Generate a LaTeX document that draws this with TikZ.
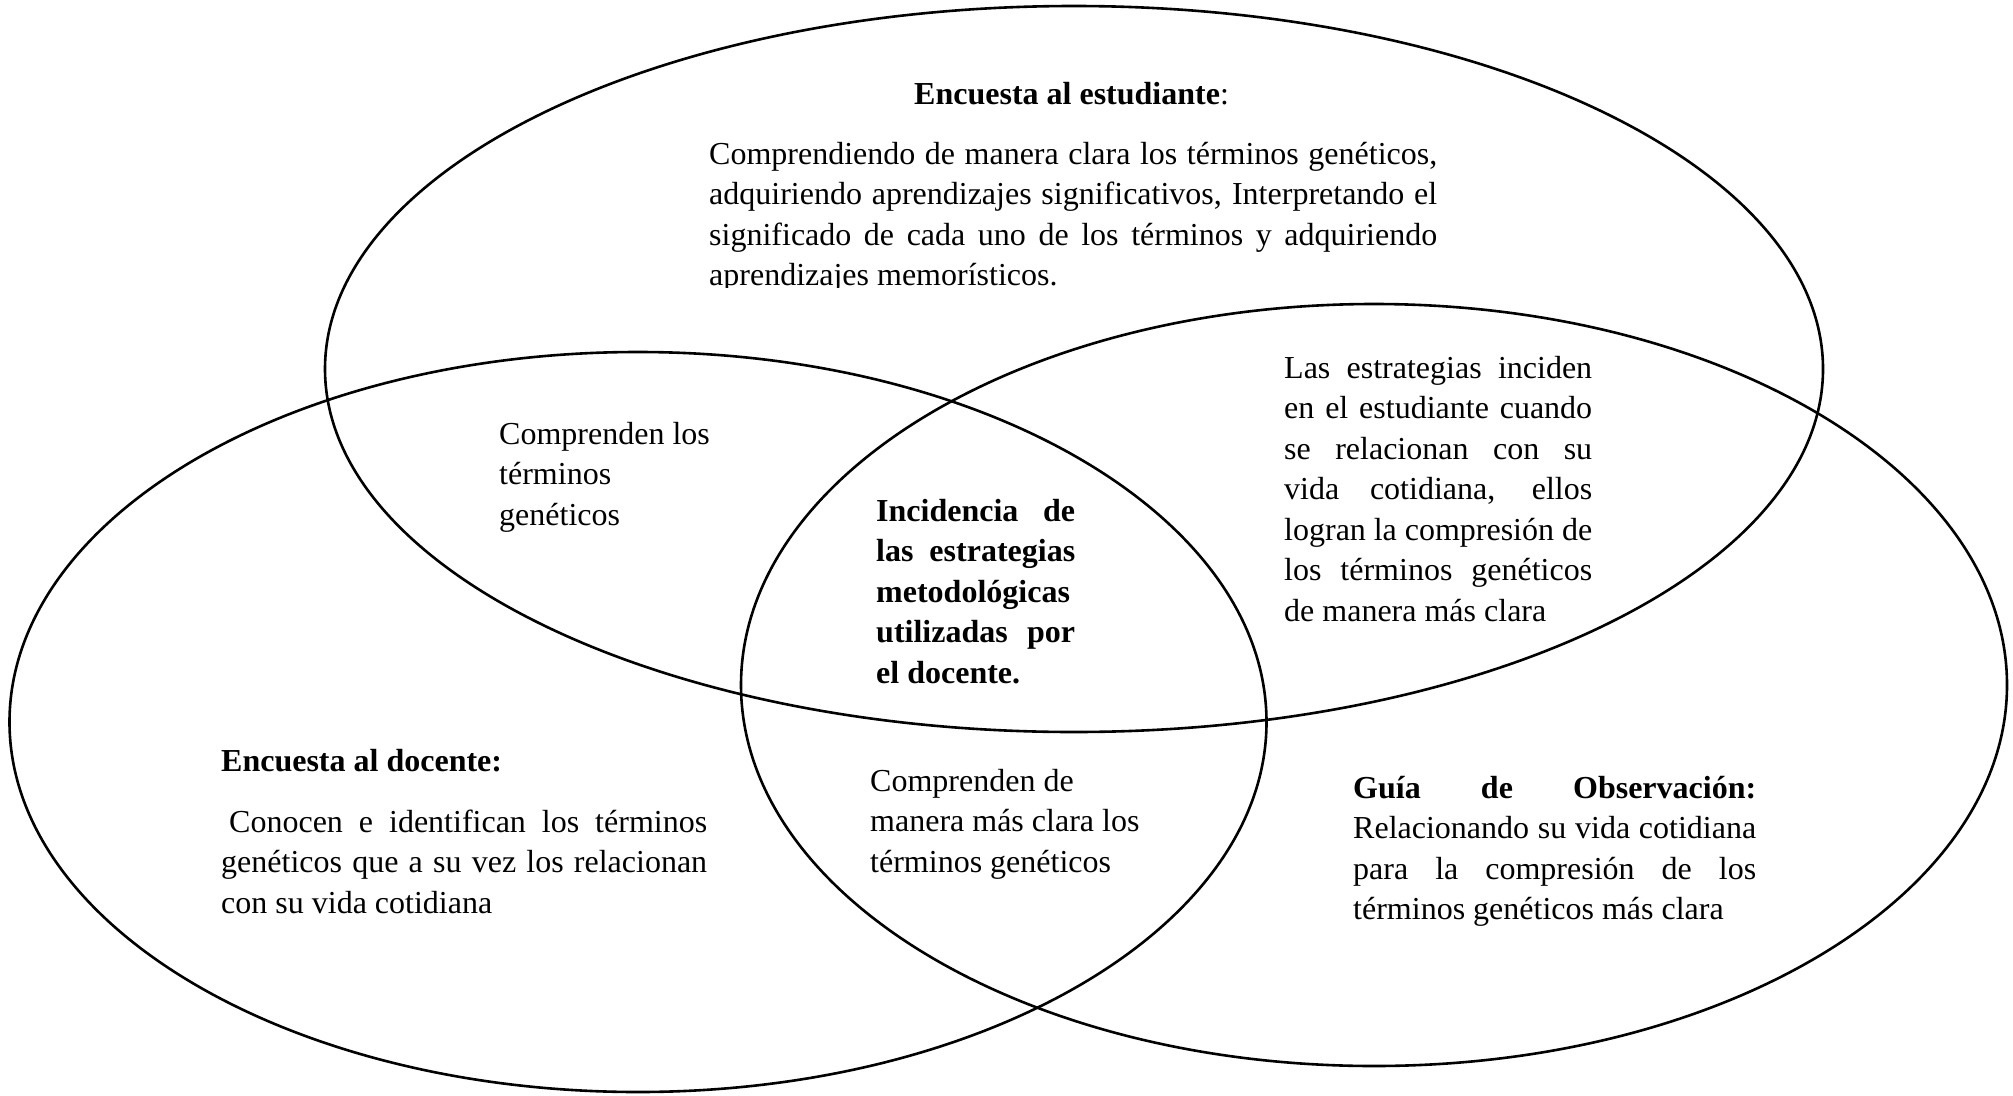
\documentclass[tikz,border=0pt]{standalone}
\usepackage{fontspec}
\setmainfont{Liberation Serif}
\usetikzlibrary{shapes.geometric}
\newcommand{\J}[2]{\makebox[#1][s]{#2}}
\begin{document}
\begin{tikzpicture}[x=1pt,y=-1pt,
  venn/.style={ellipse,draw=black,line width=2.6pt,inner sep=0pt},
  txt/.style={inner sep=0pt,anchor=base west,font=\fontsize{32}{40.5}\selectfont}]
\useasboundingbox (0,0) rectangle (2013,1095);
\node[venn,minimum width=1498pt,minimum height=726pt] (est) at (1074,369) {};
\node[venn,minimum width=1257pt,minimum height=740pt] (doc) at (638,722) {};
\node[venn,minimum width=1266pt,minimum height=762pt] (obs) at (1374,685) {};

\node[txt] (h1) at (914,104) {\textbf{Encuesta al estudiante}:};
\begin{scope}
\clip (600,120) rectangle (1500,287);
\node[txt] (p1) at (709,164) {\begin{minipage}[t]{728pt}
\J{728pt}{Comprendiendo de manera clara los términos genéticos,}\\
\J{728pt}{adquiriendo aprendizajes significativos, Interpretando el}\\
\J{728pt}{significado de cada uno de los términos y adquiriendo}\\
aprendizajes memorísticos.\end{minipage}};
\end{scope}

\node[txt] (p2) at (499,444) {\begin{minipage}[t]{220pt}
Comprenden los\\ términos\\ genéticos\end{minipage}};

\node[txt] (p3) at (876,521) {\begin{minipage}[t]{199pt}\bfseries
\J{199pt}{Incidencia de}\\
\J{199pt}{las estrategias}\\
\J{199pt}{metodológicas}\\
\J{199pt}{utilizadas por}\\
el docente.\end{minipage}};

\node[txt] (p4) at (1284,378) {\begin{minipage}[t]{308pt}
\J{308pt}{Las estrategias inciden}\\
\J{308pt}{en el estudiante cuando}\\
\J{308pt}{se relacionan con su}\\
\J{308pt}{vida cotidiana, ellos}\\
\J{308pt}{logran la compresión de}\\
\J{308pt}{los términos genéticos}\\
de manera más clara\end{minipage}};

\node[txt] (h2) at (221,771) {\textbf{Encuesta al docente:}};
\node[txt] (p5) at (221,832) {\begin{minipage}[t]{486pt}
\J{486pt}{\kern8pt Conocen e identifican los términos}\\
\J{486pt}{genéticos que a su vez los relacionan}\\
con su vida cotidiana\end{minipage}};

\node[txt] (p6) at (870,791) {\begin{minipage}[t]{300pt}
Comprenden de\\ manera más clara los\\ términos genéticos\end{minipage}};

\node[txt] (p7) at (1353,798) {\begin{minipage}[t]{403pt}
\J{403pt}{\bfseries Guía de Observación:}\\
\J{403pt}{Relacionando su vida cotidiana}\\
\J{403pt}{para la compresión de los}\\
términos genéticos más clara\end{minipage}};
\end{tikzpicture}
\end{document}
